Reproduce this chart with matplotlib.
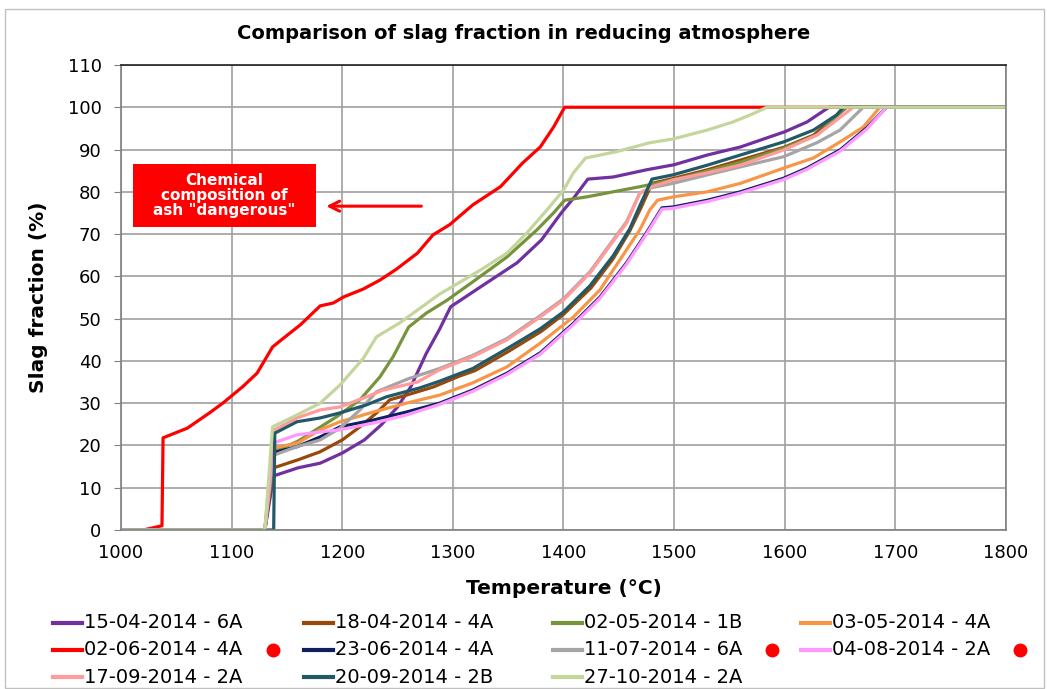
import matplotlib
matplotlib.use("Agg")
import matplotlib.pyplot as plt
from matplotlib.patches import Rectangle
from matplotlib.lines import Line2D

plt.rcParams["font.family"] = ["DejaVu Sans"]

# slag fraction (%) vs temperature (°C), one series per ash sample
t_15_04 = [1000, 1130, 1138, 1160, 1180, 1200, 1220, 1235, 1250, 1262, 1276, 1288, 1298, 1325, 1358,
           1380, 1398, 1410, 1422, 1445, 1475, 1500, 1530, 1560, 1600, 1620, 1640, 1800]
s_15_04 = [0, 0, 12.8, 14.7, 15.8, 18.2, 21.3, 24.8, 29.1, 33.9, 41.8, 47.5, 52.8, 57.5, 63.2,
           68.6, 75, 78.8, 83, 83.5, 85.2, 86.4, 88.7, 90.6, 94.2, 96.5, 100, 100]

t_18_04 = [1000, 1130, 1138, 1160, 1180, 1200, 1216, 1231, 1243, 1258, 1282, 1306, 1320, 1350, 1380,
           1400, 1425, 1445, 1460, 1470, 1480, 1500, 1530, 1560, 1600, 1626, 1656, 1800]
s_18_04 = [0, 0, 14.7, 16.6, 18.5, 21.3, 24.4, 27.7, 30.8, 31.9, 33.8, 36.4, 37.7, 42.2, 47.0,
           51.0, 57.3, 64.2, 70.8, 76.2, 82, 83.2, 85.2, 87.5, 90.6, 93.4, 100, 100]

t_02_05 = [1000, 1130, 1138, 1160, 1175, 1195, 1216, 1234, 1246, 1260, 1276, 1295, 1318, 1349, 1376,
           1391, 1401, 1421, 1445, 1469, 1499, 1539, 1560, 1600, 1630, 1655, 1800]
s_02_05 = [0, 0, 18.5, 21, 23.5, 26.8, 30.8, 36.2, 41, 48, 51.3, 54.4, 58.7, 64.6, 71,
           75, 78, 78.8, 80, 81.2, 82.8, 85.5, 87, 90.4, 93.6, 100, 100]

t_03_05 = [1000, 1130, 1138, 1160, 1180, 1198, 1228, 1258, 1288, 1318, 1349, 1379, 1409, 1433, 1451,
           1469, 1478, 1485, 1499, 1530, 1560, 1599, 1626, 1650, 1671, 1686, 1800]
s_03_05 = [0, 0, 19.4, 20.6, 23.7, 25.6, 27.9, 30, 31.9, 34.8, 38.6, 44.2, 50.4, 56.8, 63.9,
           71, 75.7, 78, 78.8, 80, 82, 85.6, 88, 91.8, 95.3, 100, 100]

t_02_06 = [1000, 1020, 1037, 1038, 1060, 1080, 1092, 1110, 1123, 1137, 1147, 1162, 1180, 1192, 1201,
           1219, 1234, 1249, 1268, 1282, 1297, 1318, 1343, 1363, 1379, 1391, 1401, 1800]
s_02_06 = [0, 0, 1, 21.8, 24.1, 27.7, 30, 33.9, 37.1, 43.3, 45.4, 48.5, 53, 53.7, 55.1,
           57, 59.1, 61.7, 65.5, 69.8, 72.2, 76.9, 81.2, 86.8, 90.6, 95.3, 100, 100]

t_23_06 = [1000, 1130, 1138, 1159, 1180, 1198, 1228, 1258, 1288, 1318, 1349, 1379, 1409, 1433, 1457,
           1475, 1489, 1499, 1530, 1560, 1599, 1620, 1650, 1674, 1692, 1800]
s_23_06 = [0, 0, 18.3, 19.7, 22, 24.4, 26, 27.9, 30, 33.1, 37.1, 41.9, 48.9, 55.1, 63.2,
           70.3, 76.2, 76.4, 78, 80, 83.2, 85.6, 89.9, 95.1, 100, 100]

t_11_07 = [1000, 1130, 1138, 1159, 1180, 1198, 1216, 1231, 1260, 1288, 1318, 1349, 1379, 1400, 1424,
           1439, 1457, 1469, 1480, 1499, 1530, 1560, 1599, 1629, 1650, 1671, 1800]
s_11_07 = [0, 0, 17.7, 19.7, 21.3, 24.1, 28.4, 32.7, 35.8, 38.2, 41.3, 45.3, 50.7, 54.7, 61.1,
           66.5, 72.9, 79.7, 81, 82, 84, 85.9, 88.3, 91.6, 94.6, 100, 100]

t_04_08 = [1000, 1130, 1138, 1159, 1180, 1198, 1228, 1258, 1288, 1318, 1349, 1379, 1409, 1433, 1457,
           1475, 1489, 1499, 1530, 1560, 1599, 1620, 1650, 1674, 1692, 1800]
s_04_08 = [0, 0, 20.6, 22.5, 23.2, 23.7, 25.3, 27.2, 29.7, 32.8, 36.8, 41.6, 48.6, 54.8, 62.9,
           70, 75.9, 76.1, 77.7, 79.7, 82.9, 85.3, 89.6, 94.8, 100, 100]

t_17_09 = [1000, 1130, 1138, 1159, 1180, 1198, 1222, 1237, 1268, 1288, 1318, 1349, 1379, 1400, 1424,
           1439, 1457, 1469, 1480, 1499, 1530, 1560, 1599, 1629, 1662, 1800]
s_17_09 = [0, 0, 23.6, 26.5, 28.4, 29.1, 31.5, 33.1, 35, 37.9, 41, 45, 50.4, 54.4, 60.8,
           66.2, 72.6, 79.7, 81.2, 82.8, 84.5, 86.3, 89.9, 93.4, 100, 100]

t_20_09 = [1000, 1138, 1139, 1159, 1180, 1198, 1222, 1240, 1270, 1288, 1318, 1349, 1379, 1400, 1424,
           1445, 1460, 1469, 1480, 1499, 1530, 1560, 1599, 1626, 1647, 1653, 1800]
s_20_09 = [0, 0, 22.9, 25.6, 26.5, 27.7, 29.6, 31.5, 33.6, 35.2, 38.2, 42.9, 47.6, 51.6, 57.8,
           64.9, 71.3, 76.7, 83, 84, 86.3, 88.7, 91.8, 94.6, 98.2, 100, 100]

t_27_10 = [1000, 1130, 1137, 1159, 1180, 1198, 1219, 1231, 1252, 1288, 1325, 1349, 1367, 1385, 1400,
           1409, 1420, 1448, 1478, 1499, 1530, 1553, 1569, 1584, 1800]
s_27_10 = [0, 0, 24.4, 27.2, 30, 34.3, 40.6, 45.7, 49, 55.8, 61.5, 65.5, 70.3, 75.7, 80.4,
           84.5, 88, 89.5, 91.6, 92.5, 94.6, 96.5, 98.2, 100, 100]

labels = ["15-04-2014 - 6A", "18-04-2014 - 4A", "02-05-2014 - 1B", "03-05-2014 - 4A",
          "02-06-2014 - 4A", "23-06-2014 - 4A", "11-07-2014 - 6A", "04-08-2014 - 2A",
          "17-09-2014 - 2A", "20-09-2014 - 2B", "27-10-2014 - 2A"]
temps = [t_15_04, t_18_04, t_02_05, t_03_05, t_02_06, t_23_06, t_11_07, t_04_08, t_17_09, t_20_09, t_27_10]
slag = [s_15_04, s_18_04, s_02_05, s_03_05, s_02_06, s_23_06, s_11_07, s_04_08, s_17_09, s_20_09, s_27_10]
colors = ["#7030A0", "#984807", "#77933C", "#F79646", "#FF0000", "#0F1F5F",
          "#A5A5A5", "#FF99FF", "#FF9B9B", "#215968", "#C3D69B"]
flagged = ["02-06-2014 - 4A", "11-07-2014 - 6A", "04-08-2014 - 2A"]

fig = plt.figure(figsize=(10.47, 6.89), dpi=100)
ax = fig.add_axes([0.1156, 0.2308, 0.8452, 0.6749])

for t, s, c in zip(temps, slag, colors):
    ax.plot(t, s, color=c, lw=2.3, solid_joinstyle="round")

ax.set_xlim(1000, 1800)
ax.set_ylim(0, 110)
ax.set_xticks(range(1000, 1801, 100))
ax.set_yticks(range(0, 111, 10))
ax.grid(True, color="#A0A0A0", lw=1.2)
ax.set_axisbelow(True)
ax.tick_params(axis="y", direction="out", length=5, color="#808080", labelsize=13, pad=9)
ax.tick_params(axis="x", length=0, labelsize=13, pad=10)
for side in ["left", "right", "bottom"]:
    ax.spines[side].set_color("#808080")
    ax.spines[side].set_linewidth(1.2)
ax.spines["top"].set_color("#202020")
ax.spines["top"].set_linewidth(1.2)

fig.text(0.5, 0.952, "Comparison of slag fraction in reducing atmosphere",
         fontsize=14, fontweight="bold", ha="center", va="center")
ax.set_xlabel("Temperature (°C)", fontsize=14.5, fontweight="bold", labelpad=12)
ax.set_ylabel("Slag fraction (%)", fontsize=14.5, fontweight="bold", labelpad=14)

# warning box with arrow
ax.add_patch(Rectangle((1011, 71.7), 165, 14.9, facecolor="#FF0000", edgecolor="none", zorder=5))
ax.text(1093.5, 79.1, 'Chemical\ncomposition of\nash "dangerous"', color="white",
        fontsize=11, fontweight="bold", ha="center", va="center", linespacing=1.0, zorder=6)
ax.annotate("", xy=(1183, 76.6), xytext=(1274, 76.6),
            arrowprops=dict(arrowstyle="->", color="#FF0000", lw=2.2, mutation_scale=18), zorder=6)

# legend laid out row by row, four columns
col_x = [0.051, 0.290, 0.528, 0.765]
row_y = [0.096, 0.057, 0.017]
W, H = 1047, 689
for i, (lab, c) in enumerate(zip(labels, colors)):
    r, k = divmod(i, 4)
    x0, y0 = col_x[k], row_y[r]
    fig.add_artist(Line2D([x0, x0 + 29 / W], [y0, y0], color=c, lw=3.0,
                          transform=fig.transFigure))
    txt = fig.text(x0 + 31 / W, y0, lab, fontsize=14, va="center", ha="left")
    if lab in flagged:
        fig.canvas.draw()
        bb = txt.get_window_extent()
        fig.add_artist(Line2D([(bb.x1 + 30) / W], [y0], marker="o", color="#FF0000",
                              markersize=9, transform=fig.transFigure))

# light chart-area border
fig.add_artist(Rectangle((0.005, 0.002), 0.992, 0.985, transform=fig.transFigure,
                         fill=False, edgecolor="#C0C0C0", lw=1.0))

fig.savefig("out.png", dpi=100)
